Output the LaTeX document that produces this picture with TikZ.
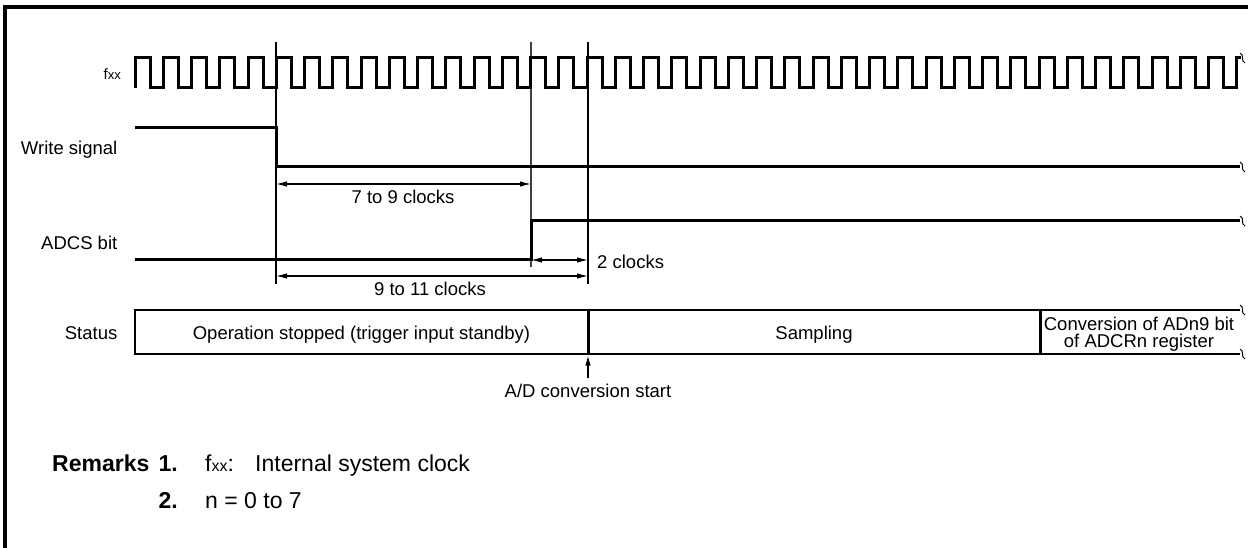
\documentclass[tikz,border=0pt]{standalone}
\usepackage{fontspec}
\setmainfont{Liberation Sans}
\usetikzlibrary{arrows.meta}
\begin{document}
\begin{tikzpicture}[x=1pt,y=-1pt,
  sig/.style={line width=3pt,line cap=butt,line join=miter},
  boxline/.style={line width=2.8pt},
  guide/.style={line width=1.1pt},
  dim/.style={line width=1.1pt,{Latex[length=11pt,width=5.5pt]}-{Latex[length=11pt,width=5.5pt]}},
  upar/.style={line width=1.1pt,-{Latex[length=10pt,width=5.5pt]}},
  brk/.style={line width=1pt},
  lbl/.style={inner sep=0pt,font=\fontsize{18.5}{20}\selectfont},
  rem/.style={inner sep=0pt,font=\fontsize{23}{26}\selectfont},
  remb/.style={inner sep=0pt,font=\fontsize{23}{26}\selectfont\bfseries}]
\useasboundingbox (0,0) rectangle (1248,548);
% frame
\draw[line width=3.3pt] (5,548) -- (5,7) -- (1248,7);
% timing coordinates
\coordinate (t1top) at (276,42);  \coordinate (t1bot) at (276,284);
\coordinate (t2top) at (531,42);  \coordinate (t2bot) at (531,267);
\coordinate (t3top) at (588,42);  \coordinate (t3bot) at (588,284);
\draw[guide] (t1top) -- (t1bot);
\draw[guide,black!75] (t2top) -- (t2bot);
\draw[guide] (t3top) -- (t3bot);
% clock
\draw[sig] (135,88) -- (135,58)
  \foreach \i in {1,...,39} { -- ++(15,0) -- ++(0,30) -- ++(13.256,0) -- ++(0,-30) } -- ++(4,0);
% write signal
\draw[sig] (135,128) -- (276,128) -- (276,167) -- (1240,167);
% ADCS bit
\draw[sig] (135,260) -- (531,260) -- (531,221) -- (1240,221);
% status box
\draw[boxline] (1240,310) -- (135,310) -- (135,354) -- (1240,354);
\draw[sig] (588,310) -- (588,354);
\draw[sig] (1040,310) -- (1040,354);
% break marks
\foreach \yy in {58,167,221,310,354}
  \draw[brk] (1240,\yy-5) .. controls (1245,\yy-3) and (1240,\yy+3) .. (1245,\yy+5);
% dimension arrows
\coordinate (a1l) at (276,184); \coordinate (a1r) at (531,184);
\coordinate (a2l) at (276,276); \coordinate (a2r) at (588,276);
\coordinate (a3l) at (531,260); \coordinate (a3r) at (588,260);
\draw[dim] (a1l) -- (a1r);
\draw[dim] (a2l) -- (a2r);
\draw[dim] (a3l) -- (a3r);
\node[lbl,anchor=base] (l79) at (403,203.5) {7 to 9 clocks};
\node[lbl,anchor=base] (l911) at (430,295.5) {9 to 11 clocks};
\node[lbl,anchor=base west] (l2) at (597,269) {2 clocks};
% A/D conversion start
\coordinate (adtail) at (588,378); \coordinate (adtip) at (588,355.5);
\draw[upar] (adtail) -- (adtip);
\node[lbl,anchor=base] (adlbl) at (588,397) {A/D conversion start};
% signal labels
\node[inner sep=0pt,anchor=base east] (fxx) at (121,80) {\fontsize{15}{16}\selectfont f\fontsize{13}{14}\selectfont xx};
\node[lbl,anchor=base east] (wsl) at (117.5,155) {Write signal};
\node[lbl,anchor=base east] (adcsl) at (117.5,249.5) {ADCS bit};
\node[lbl,anchor=base east] (stl) at (117.5,339.5) {Status};
% status texts
\node[lbl,anchor=base] (op) at (361.5,339.5) {Operation stopped (trigger input standby)};
\node[lbl,anchor=base] (smp) at (814,339.5) {Sampling};
\node[lbl,anchor=base] (conv1) at (1139,330) {Conversion of ADn9 bit};
\node[lbl,anchor=base] (conv2) at (1139,347.3) {of ADCRn register};
% remarks
\node[remb,anchor=base west] (rem) at (52,471.7) {Remarks};
\node[remb,anchor=base east] (r1) at (178,471.7) {1.};
\node[rem,anchor=base west] (r1t) at (205,471.7) {f{\fontsize{16}{18}\selectfont xx}:};
\node[rem,anchor=base west] (r1u) at (255,471.7) {Internal system clock};
\node[remb,anchor=base east] (r2) at (178,508.3) {2.};
\node[rem,anchor=base west] (r2t) at (205,508.3) {n = 0 to 7};
\end{tikzpicture}
\end{document}
